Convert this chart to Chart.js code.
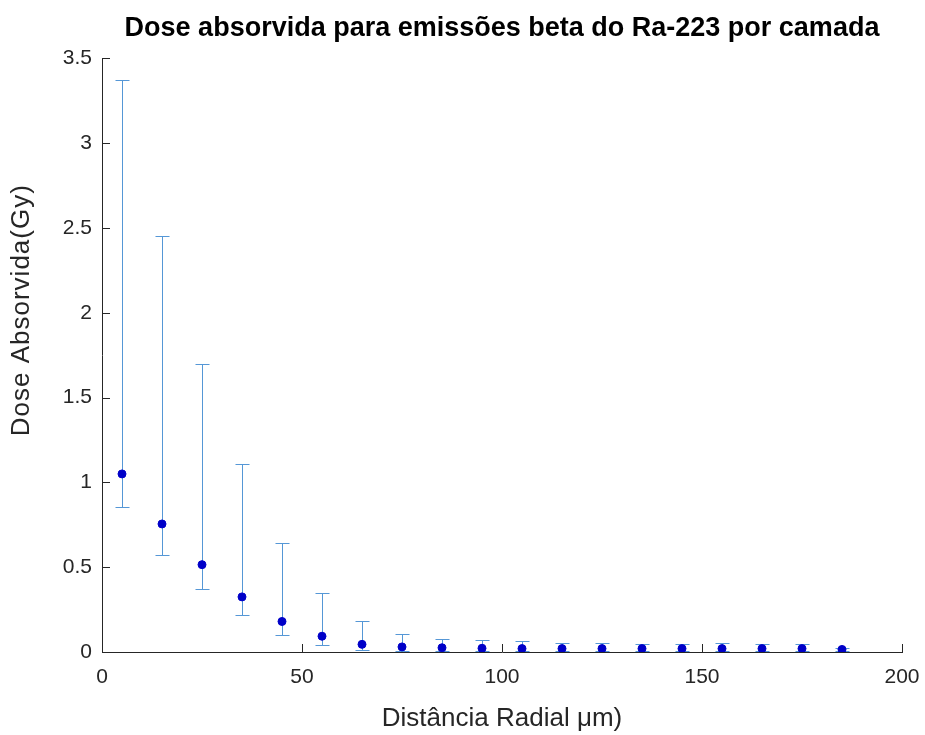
<!DOCTYPE html>
<html>
<head>
<meta charset="utf-8">
<script src="https://cdn.jsdelivr.net/npm/chart.js@4/dist/chart.umd.min.js"></script>
<style>
html,body{margin:0;padding:0;background:#fff;}
#wrap{width:925px;height:735px;position:relative;}
</style>
</head>
<body>
<div id="wrap"><canvas id="c" width="925" height="735"></canvas></div>
<script>
// Radial distance (µm) of each layer centre
const distances = [5, 15, 25, 35, 45, 55, 65, 75, 85, 95, 105, 115, 125, 135, 145, 155, 165, 175, 185];
// Mean absorbed dose (Gy)
const doseMean = [1.05, 0.755, 0.515, 0.325, 0.18, 0.093, 0.045, 0.03, 0.025, 0.022, 0.02, 0.02, 0.02, 0.02, 0.02, 0.02, 0.02, 0.02, 0.015];
// Upper end of error bar (Gy)
const doseUpper = [3.37, 2.45, 1.70, 1.11, 0.64, 0.35, 0.18, 0.105, 0.075, 0.07, 0.062, 0.052, 0.052, 0.048, 0.05, 0.052, 0.05, 0.05, 0.025];
// Lower end of error bar (Gy)
const doseLower = [0.855, 0.57, 0.37, 0.22, 0.10, 0.04, 0.012, 0.006, 0.005, 0.005, 0.005, 0.005, 0.005, 0.005, 0.005, 0.005, 0.005, 0.005, 0.004];
const xTicks = [0, 50, 100, 150, 200];
const yTicks = [0, 0.5, 1, 1.5, 2, 2.5, 3, 3.5];
const titleText = 'Dose absorvida para emissões beta do Ra-223 por camada';
const xTitleText = 'Distância Radial μm)';
const yTitleText = 'Dose Absorvida(Gy)';

const axisColor = '#262626';
const textColor = '#262626';
const FONT = 'Liberation Sans, Arial, Helvetica, sans-serif';

const errorBarPlugin = {
  id: 'errorBars',
  beforeDatasetsDraw(chart) {
    const ctx = chart.ctx;
    const xs = chart.scales.x, ys = chart.scales.y;
    ctx.save();
    ctx.strokeStyle = '#5597d6';
    ctx.lineWidth = 1;
    const cap = 7;
    distances.forEach((d, i) => {
      const px = Math.round(xs.getPixelForValue(d)) + 0.5;
      const pu = Math.round(ys.getPixelForValue(doseUpper[i])) + 0.5;
      const pl = Math.round(ys.getPixelForValue(doseLower[i])) + 0.5;
      ctx.beginPath();
      ctx.moveTo(px, pu); ctx.lineTo(px, pl);
      ctx.moveTo(px - cap, pu); ctx.lineTo(px + cap, pu);
      ctx.moveTo(px - cap, pl); ctx.lineTo(px + cap, pl);
      ctx.stroke();
    });
    ctx.restore();
  }
};

const innerTicksPlugin = {
  id: 'innerTicks',
  afterDatasetsDraw(chart) {
    const ctx = chart.ctx;
    const xs = chart.scales.x, ys = chart.scales.y;
    const a = chart.chartArea;
    ctx.save();
    ctx.strokeStyle = axisColor;
    ctx.lineWidth = 1;
    ctx.beginPath();
    xTicks.forEach(v => {
      const px = Math.round(xs.getPixelForValue(v)) + 0.5;
      ctx.moveTo(px, a.bottom); ctx.lineTo(px, a.bottom - 8);
    });
    yTicks.forEach(v => {
      const py = Math.round(ys.getPixelForValue(v)) + 0.5;
      ctx.moveTo(a.left, py); ctx.lineTo(a.left + 8, py);
    });
    ctx.stroke();
    // y-axis title (slightly above the axis centre, as in the original figure)
    ctx.fillStyle = textColor;
    ctx.font = '26px ' + FONT;
    if ('letterSpacing' in ctx) ctx.letterSpacing = '1px';
    ctx.textAlign = 'center';
    ctx.textBaseline = 'middle';
    ctx.translate(22, (a.top + a.bottom) / 2 - 45);
    ctx.rotate(-Math.PI / 2);
    ctx.fillText(yTitleText, 0, 0);
    ctx.restore();
  }
};

// centre the main title over the plot area (like MATLAB)
const titleCenterPlugin = {
  id: 'titleCenter',
  afterLayout(chart) {
    const tb = chart.titleBlock;
    if (tb) {
      tb.left = chart.chartArea.left;
      tb.right = chart.chartArea.right;
      tb.width = tb.right - tb.left;
    }
  }
};

new Chart(document.getElementById('c'), {
  type: 'scatter',
  data: {
    datasets: [{
      data: distances.map((d, i) => ({x: d, y: doseMean[i]})),
      backgroundColor: '#0000c8',
      borderColor: '#0000c8',
      pointRadius: 4,
      pointHoverRadius: 4
    }]
  },
  options: {
    responsive: false,
    animation: false,
    devicePixelRatio: 1,
    layout: {padding: {left: 6, right: 23, top: 0, bottom: 0}},
    plugins: {
      legend: {display: false},
      tooltip: {enabled: false},
      title: {
        display: true,
        text: titleText,
        color: '#000',
        font: {family: FONT, size: 27, weight: 'bold'},
        padding: {top: 12, bottom: 14}
      }
    },
    scales: {
      x: {
        type: 'linear',
        min: 0, max: 200,
        afterBuildTicks: s => { s.ticks = xTicks.map(v => ({value: v})); },
        afterFit: s => { s.height = 83; s.paddingLeft = 0; s.paddingRight = 0; },
        border: {display: true, color: axisColor, width: 1},
        grid: {display: false, drawTicks: false},
        ticks: {
          color: textColor,
          padding: 13,
          font: {family: FONT, size: 21},
          maxRotation: 0
        },
        title: {
          display: true,
          text: xTitleText,
          color: textColor,
          font: {family: FONT, size: 26},
          padding: {top: 8, bottom: 1}
        }
      },
      y: {
        type: 'linear',
        min: 0, max: 3.5,
        afterBuildTicks: s => { s.ticks = yTicks.map(v => ({value: v})); },
        afterFit: s => { s.width = 96; s.paddingTop = 0; s.paddingBottom = 0; },
        border: {display: true, color: axisColor, width: 1},
        grid: {display: false, drawTicks: false},
        ticks: {
          color: textColor,
          padding: 10,
          font: {family: FONT, size: 21},
          callback: v => String(v)
        },
        title: {display: false}
      }
    }
  },
  plugins: [titleCenterPlugin, errorBarPlugin, innerTicksPlugin]
});
</script>
</body>
</html>
